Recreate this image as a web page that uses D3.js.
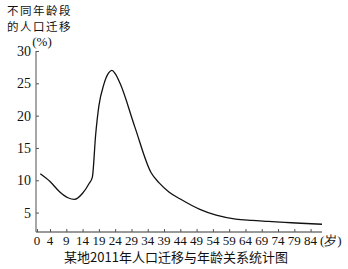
<!DOCTYPE html>
<html>
<head>
<meta charset="utf-8">
<script src="https://cdn.jsdelivr.net/npm/d3@7"></script>
<style>
body { margin: 0; background: #fff; }
text { fill: #111; }
</style>
</head>
<body>
<script>
// values
var ages = [1, 4, 7, 9.5, 11.5, 14, 16, 17, 18, 19, 20.5, 22, 23, 24, 25.5, 30, 35, 37.5, 40.5, 44, 50, 55, 61, 66, 71, 76, 81, 87.5];
var rates = [11, 9.8, 8.2, 7.3, 7.05, 8.0, 9.5, 10.5, 17, 21.5, 24.8, 26.6, 27, 26.5, 25, 18.3, 11.2, 9.6, 8.2, 7.1, 5.5, 4.6, 4.0, 3.8, 3.65, 3.5, 3.35, 3.2];
var xTicks = [0, 4, 9, 14, 19, 24, 29, 34, 39, 44, 49, 54, 59, 64, 69, 74, 79, 84];
var yTicks = [5, 10, 15, 20, 25, 30];
var yTitle = ["不同年龄段", "的人口迁移"];

var data = ages.map(function(a, i) { return {age: a, v: rates[i]}; });

var svg = d3.select("body").append("svg")
  .attr("width", 348)
  .attr("height", 269);

var x = d3.scaleLinear().domain([0, 87.5]).range([37, 322]);
var y = d3.scaleLinear().domain([2, 30]).range([232, 51]);

var numFont = "'Liberation Serif', 'DejaVu Serif', serif";
var cjkFont = "'Noto Sans CJK SC', sans-serif";

// y axis
var yAxis = svg.append("g")
  .attr("transform", "translate(36,0)")
  .call(d3.axisRight(y).tickValues(yTicks).tickSize(3).tickFormat(""));
yAxis.select(".domain").attr("d", "M0," + y(30) + "V" + y(2)).attr("stroke", "#777").attr("stroke-width", 1.3);
yAxis.selectAll(".tick line").attr("stroke", "#555");

svg.selectAll(".ylab")
  .data(yTicks)
  .enter()
  .append("text")
  .attr("class", "ylab")
  .attr("x", 31)
  .attr("y", function(d) { return y(d); })
  .attr("dy", "0.35em")
  .attr("text-anchor", "end")
  .style("font-family", numFont)
  .style("font-size", "14px")
  .text(function(d) { return d; });

// x axis
var xAxis = svg.append("g")
  .attr("transform", "translate(0,232)")
  .call(d3.axisTop(x).tickValues(xTicks).tickSize(3).tickFormat(""));
xAxis.select(".domain").attr("d", "M36,0H322").attr("stroke", "#777").attr("stroke-width", 1.3);
xAxis.selectAll(".tick line").attr("stroke", "#555");

svg.selectAll(".xlab")
  .data(xTicks)
  .enter()
  .append("text")
  .attr("class", "xlab")
  .attr("x", function(d) { return x(d); })
  .attr("y", 245)
  .attr("text-anchor", "middle")
  .style("font-family", numFont)
  .style("font-size", "13px")
  .text(function(d) { return d; });

svg.append("text")
  .attr("x", 320).attr("y", 245)
  .style("font-family", numFont)
  .style("font-size", "13px")
  .text("(岁)");

// y title
svg.selectAll(".ytitle")
  .data(yTitle)
  .enter()
  .append("text")
  .attr("class", "ytitle")
  .attr("x", 7)
  .attr("y", function(d, i) { return 14.5 + i * 16.7; })
  .style("font-family", cjkFont)
  .style("font-size", "11.5px")
  .style("letter-spacing", "1.5px")
  .text(function(d) { return d; });

svg.append("text")
  .attr("x", 42).attr("y", 46.3)
  .attr("text-anchor", "middle")
  .style("font-family", numFont)
  .style("font-size", "13px")
  .text("(%)");

svg.append("text")
  .attr("x", 176).attr("y", 262)
  .attr("text-anchor", "middle")
  .style("font-family", cjkFont)
  .style("font-size", "13px")
  .text("某地2011年人口迁移与年龄关系统计图");

// curve
var line = d3.line()
  .x(function(d) { return x(d.age); })
  .y(function(d) { return y(d.v); })
  .curve(d3.curveMonotoneX);

svg.append("path")
  .datum(data)
  .attr("d", line)
  .attr("fill", "none")
  .attr("stroke", "#111")
  .attr("stroke-width", 1.3);
</script>
</body>
</html>
